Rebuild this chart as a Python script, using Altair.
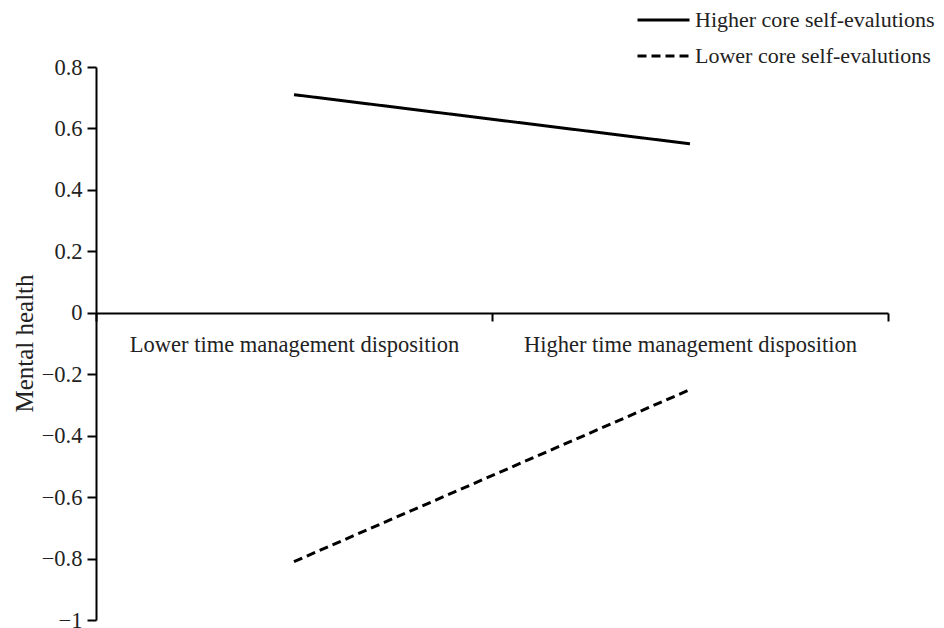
import altair as alt
import pandas as pd

categories = ["Lower time management disposition", "Higher time management disposition"]
groups = ["Higher core self-evalutions", "Lower core self-evalutions"]
higher_vals = [0.71, 0.55]
lower_vals = [-0.81, -0.25]
y_ticks = [-1, -0.8, -0.6, -0.4, -0.2, 0, 0.2, 0.4, 0.6, 0.8]

rows = []
for c, v in zip(categories, higher_vals):
    rows.append({"tmd": c, "group": groups[0], "value": v})
for c, v in zip(categories, lower_vals):
    rows.append({"tmd": c, "group": groups[1], "value": v})
df = pd.DataFrame(rows)

FONT = "Liberation Serif"
TXT = "#222222"

chart = alt.Chart(df).mark_line(color="black", strokeWidth=3).encode(
    x=alt.X(
        "tmd:N",
        sort=categories,
        bandPosition=0.5,
        scale=alt.Scale(type="band", paddingInner=0, paddingOuter=0),
        axis=alt.Axis(
            title=None,
            offset=-307,
            tickBand="extent",
            labelAngle=0,
            tickSize=8,
            tickWidth=2,
            tickColor="black",
            domainColor="black",
            domainWidth=2,
            labelPadding=12,
            labelFont=FONT,
            labelFontSize=22.5,
            labelColor=TXT,
            labelLimit=500,
            grid=False,
        ),
    ),
    y=alt.Y(
        "value:Q",
        scale=alt.Scale(domain=[-1, 0.8], nice=False, zero=False),
        axis=alt.Axis(
            title="Mental health",
            values=y_ticks,
            format="~g",
            grid=False,
            tickSize=9,
            tickWidth=2,
            tickColor="black",
            domainColor="black",
            domainWidth=2,
            labelPadding=5,
            labelFont=FONT,
            labelFontSize=22.5,
            labelColor=TXT,
            titleFont=FONT,
            titleFontSize=25,
            titleFontWeight="normal",
            titleColor=TXT,
            titleX=-64,
            titleY=276,
            titleAngle=270,
            titleAlign="center",
            titleBaseline="alphabetic",
        ),
    ),
    strokeDash=alt.StrokeDash(
        "group:N",
        sort=groups,
        scale=alt.Scale(domain=groups, range=[[1, 0], [9, 5]]),
        legend=alt.Legend(
            title=None,
            orient="none",
            legendX=540,
            legendY=-57,
            symbolType="stroke",
            symbolSize=2704,
            symbolStrokeWidth=3,
            symbolStrokeColor="black",
            clipHeight=20,
            rowPadding=14,
            labelOffset=4,
            labelFont=FONT,
            labelFontSize=22,
            labelColor=TXT,
            labelLimit=500,
            padding=0,
        ),
    ),
).properties(
    width=792,
    height=553,
    autosize=alt.AutoSizeParams(type="none"),
    padding={"left": 88, "top": 59, "right": 48, "bottom": 8},
).configure_view(stroke=None)

chart.save("out.html", embed_options={"renderer": "svg", "actions": False})
